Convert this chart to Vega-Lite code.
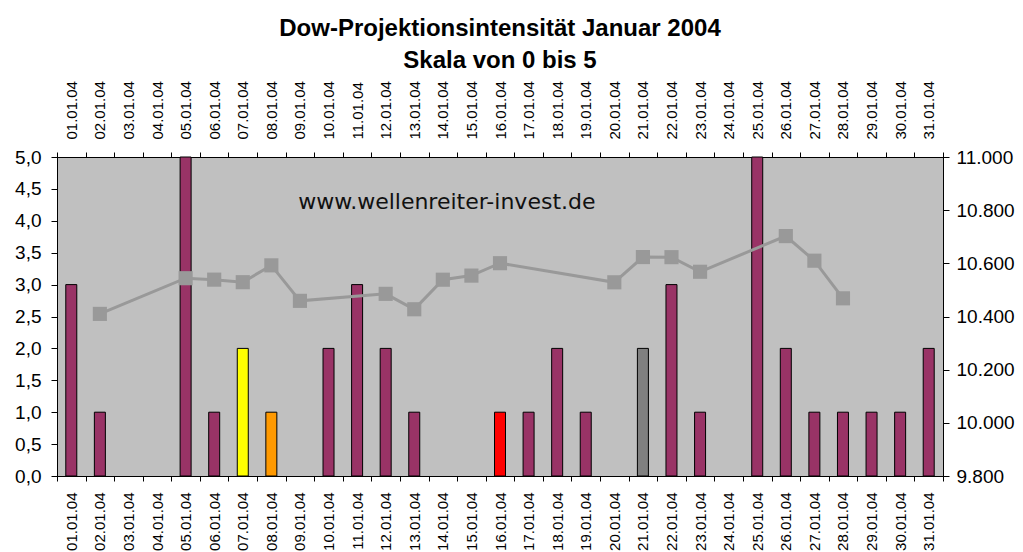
{
  "$schema": "https://vega.github.io/schema/vega-lite/v6.json",
  "width": 886,
  "height": 319,
  "autosize": {"type": "none"},
  "padding": {"left": 57, "top": 157, "right": 80, "bottom": 76},
  "background": "white",
  "title": {
    "text": ["Dow-Projektionsintensität Januar 2004", "Skala von 0 bis 5"],
    "font": "Liberation Sans",
    "fontSize": 24,
    "fontWeight": "bold",
    "color": "black",
    "lineHeight": 32,
    "anchor": "middle",
    "offset": 8
  },
  "config": {
    "view": {"fill": "#C0C0C0", "stroke": "black", "strokeWidth": 1},
    "axis": {
      "labelFont": "Liberation Sans",
      "labelColor": "black",
      "domainColor": "black",
      "tickColor": "black",
      "grid": false,
      "title": null,
      "labelOverlap": false
    }
  },
  "datasets": {
    "tage": [
      {"datum": "01.01.04", "intensitaet": 3, "typ": "normal", "dow": null},
      {"datum": "02.01.04", "intensitaet": 1, "typ": "normal", "dow": 10409.85},
      {"datum": "03.01.04", "intensitaet": 0, "typ": "normal", "dow": null},
      {"datum": "04.01.04", "intensitaet": 0, "typ": "normal", "dow": null},
      {"datum": "05.01.04", "intensitaet": 5, "typ": "normal", "dow": 10544.07},
      {"datum": "06.01.04", "intensitaet": 1, "typ": "normal", "dow": 10538.66},
      {"datum": "07.01.04", "intensitaet": 2, "typ": "gelb", "dow": 10529.03},
      {"datum": "08.01.04", "intensitaet": 1, "typ": "orange", "dow": 10592.44},
      {"datum": "09.01.04", "intensitaet": 0, "typ": "normal", "dow": 10458.89},
      {"datum": "10.01.04", "intensitaet": 2, "typ": "normal", "dow": null},
      {"datum": "11.01.04", "intensitaet": 3, "typ": "normal", "dow": null},
      {"datum": "12.01.04", "intensitaet": 2, "typ": "normal", "dow": 10485.18},
      {"datum": "13.01.04", "intensitaet": 1, "typ": "normal", "dow": 10427.18},
      {"datum": "14.01.04", "intensitaet": 0, "typ": "normal", "dow": 10538.37},
      {"datum": "15.01.04", "intensitaet": 0, "typ": "normal", "dow": 10553.85},
      {"datum": "16.01.04", "intensitaet": 1, "typ": "rot", "dow": 10600.51},
      {"datum": "17.01.04", "intensitaet": 1, "typ": "normal", "dow": null},
      {"datum": "18.01.04", "intensitaet": 2, "typ": "normal", "dow": null},
      {"datum": "19.01.04", "intensitaet": 1, "typ": "normal", "dow": null},
      {"datum": "20.01.04", "intensitaet": 0, "typ": "normal", "dow": 10528.66},
      {"datum": "21.01.04", "intensitaet": 2, "typ": "grau", "dow": 10623.62},
      {"datum": "22.01.04", "intensitaet": 3, "typ": "normal", "dow": 10623.18},
      {"datum": "23.01.04", "intensitaet": 1, "typ": "normal", "dow": 10568.29},
      {"datum": "24.01.04", "intensitaet": 0, "typ": "normal", "dow": null},
      {"datum": "25.01.04", "intensitaet": 5, "typ": "normal", "dow": null},
      {"datum": "26.01.04", "intensitaet": 2, "typ": "normal", "dow": 10702.51},
      {"datum": "27.01.04", "intensitaet": 1, "typ": "normal", "dow": 10609.92},
      {"datum": "28.01.04", "intensitaet": 1, "typ": "normal", "dow": 10468.37},
      {"datum": "29.01.04", "intensitaet": 1, "typ": "normal", "dow": null},
      {"datum": "30.01.04", "intensitaet": 1, "typ": "normal", "dow": null},
      {"datum": "31.01.04", "intensitaet": 2, "typ": "normal", "dow": null}
    ],
    "notiz": [
      {"datum": "14.01.04", "wert": 4.3, "text": "www.wellenreiter-invest.de"}
    ]
  },
  "layer": [
    {
      "layer": [
        {
          "data": {"name": "tage"},
          "transform": [{"filter": "datum.intensitaet > 0"}],
          "mark": {"type": "bar", "size": 11, "stroke": "black", "strokeWidth": 1},
          "encoding": {
            "x": {
              "field": "datum",
              "type": "ordinal",
              "scale": {
                "domain": ["01.01.04", "02.01.04", "03.01.04", "04.01.04", "05.01.04", "06.01.04", "07.01.04", "08.01.04", "09.01.04", "10.01.04", "11.01.04", "12.01.04", "13.01.04", "14.01.04", "15.01.04", "16.01.04", "17.01.04", "18.01.04", "19.01.04", "20.01.04", "21.01.04", "22.01.04", "23.01.04", "24.01.04", "25.01.04", "26.01.04", "27.01.04", "28.01.04", "29.01.04", "30.01.04", "31.01.04"],
                "paddingInner": 0,
                "paddingOuter": 0
              },
              "axis": {
                "orient": "bottom",
                "labelAngle": -90,
                "labelFontSize": 15,
                "labelPadding": 11,
                "tickBand": "extent",
                "tickSize": 5
              }
            },
            "y": {
              "field": "intensitaet",
              "type": "quantitative",
              "scale": {"domain": [0, 5], "nice": false},
              "axis": {
                "orient": "left",
                "values": [0, 0.5, 1, 1.5, 2, 2.5, 3, 3.5, 4, 4.5, 5],
                "labelExpr": "replace(format(datum.value, '.1f'), '.', ',')",
                "labelFontSize": 19,
                "labelOverlap": false,
                "tickSize": 6,
                "labelPadding": 10
              }
            },
            "color": {
              "field": "typ",
              "type": "nominal",
              "scale": {
                "domain": ["normal", "gelb", "orange", "rot", "grau"],
                "range": ["#993366", "#FFFF00", "#FF9900", "#FF0000", "#808080"]
              },
              "legend": null
            }
          }
        },
        {
          "data": {"name": "notiz"},
          "mark": {"type": "text", "font": "DejaVu Sans", "fontSize": 22, "color": "#111111", "align": "center", "baseline": "middle", "dx": 4},
          "encoding": {
            "x": {
              "field": "datum",
              "type": "ordinal",
              "axis": {
                "orient": "bottom",
                "labelAngle": -90,
                "labelFontSize": 15,
                "labelPadding": 11,
                "tickBand": "extent",
                "tickSize": 5
              }
            },
            "y": {
              "field": "wert",
              "type": "quantitative",
              "axis": {
                "orient": "left",
                "values": [0, 0.5, 1, 1.5, 2, 2.5, 3, 3.5, 4, 4.5, 5],
                "labelExpr": "replace(format(datum.value, '.1f'), '.', ',')",
                "labelFontSize": 19,
                "labelOverlap": false,
                "tickSize": 6,
                "labelPadding": 10
              }
            },
            "text": {"field": "text"}
          }
        }
      ]
    },
    {
      "data": {"name": "tage"},
      "transform": [{"filter": "datum.dow != null"}],
      "encoding": {
        "x": {
          "field": "datum",
          "type": "ordinal",
          "axis": {
            "orient": "top",
            "labelAngle": -90,
            "labelFontSize": 15,
            "labelPadding": 13,
            "tickBand": "extent",
            "tickSize": 5
          }
        },
        "y": {
          "field": "dow",
          "type": "quantitative",
          "scale": {"domain": [9800, 11000], "nice": false, "zero": false},
          "axis": {
            "orient": "right",
            "values": [9800, 10000, 10200, 10400, 10600, 10800, 11000],
            "labelExpr": "replace(format(datum.value, ',d'), ',', '.')",
            "labelFontSize": 19,
            "labelOverlap": false,
            "tickSize": 6,
            "labelPadding": 7
          }
        }
      },
      "layer": [
        {"mark": {"type": "line", "color": "#999999", "strokeWidth": 3}},
        {"mark": {"type": "point", "shape": "square", "filled": true, "size": 200, "color": "#999999", "opacity": 1}}
      ]
    }
  ],
  "resolve": {"scale": {"y": "independent"}, "axis": {"x": "independent"}}
}
